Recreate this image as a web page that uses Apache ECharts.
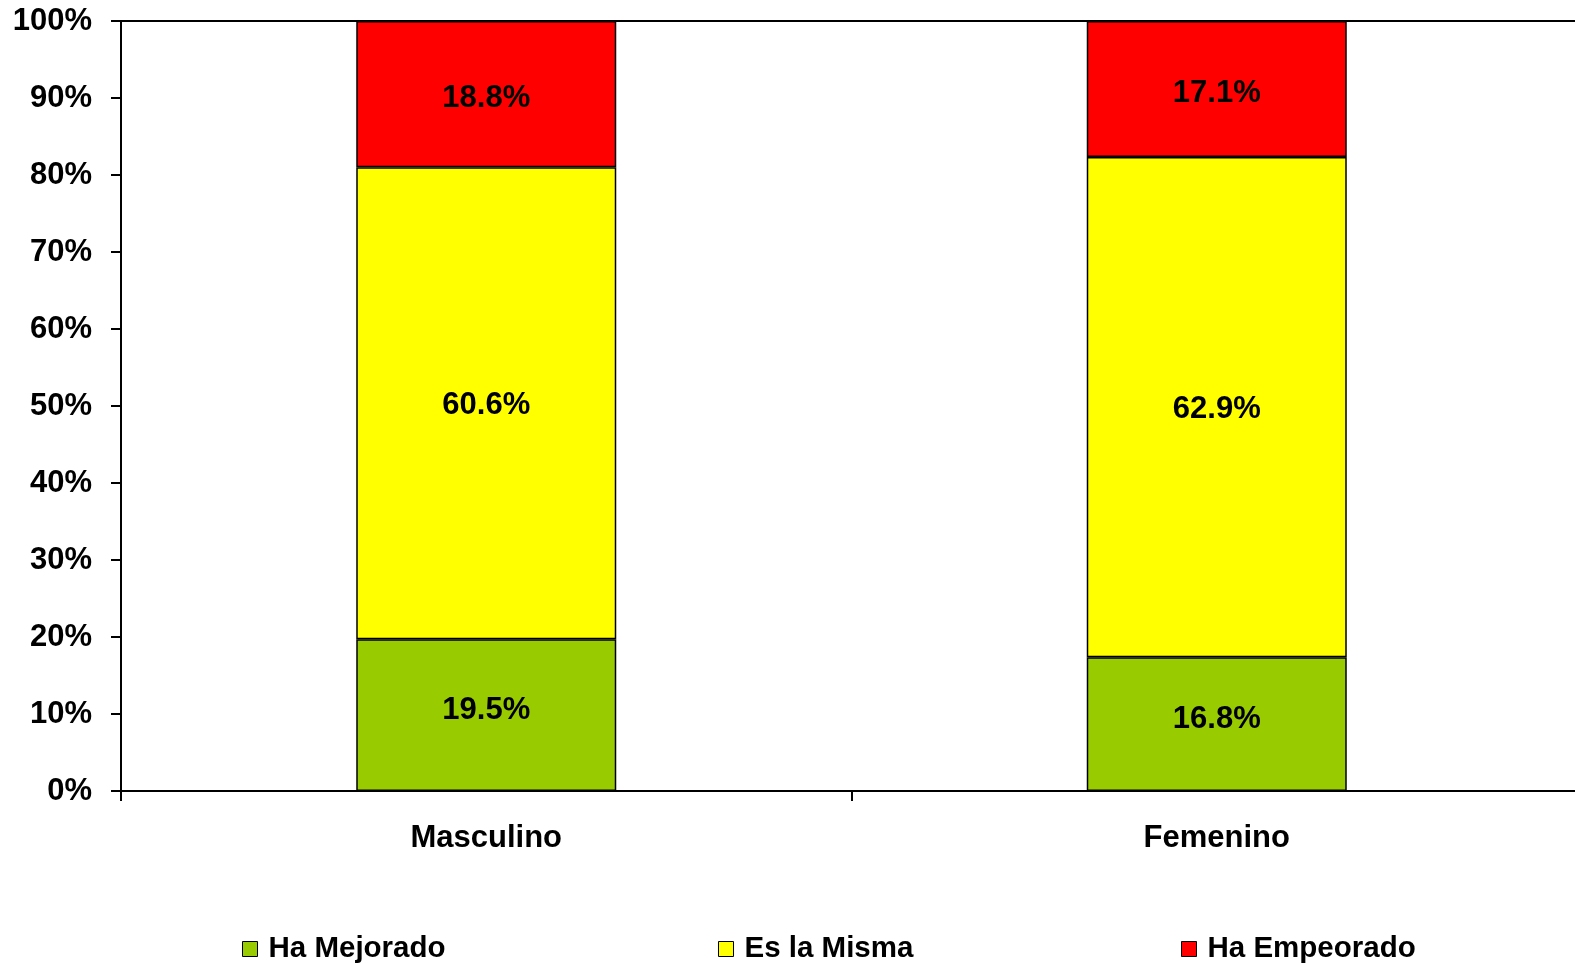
<!DOCTYPE html>
<html>
<head>
<meta charset="utf-8">
<script src="https://cdn.jsdelivr.net/npm/echarts@6/dist/echarts.min.js"></script>
<style>html,body{margin:0;padding:0;background:#fff}#c{width:1575px;height:963px}</style>
</head>
<body>
<div id="c"></div>
<script>
const categories = ['Masculino', 'Femenino'];
const seriesNames = ['Ha Mejorado', 'Es la Misma', 'Ha Empeorado'];
const haMejorado = [19.5, 16.8];
const esLaMisma = [60.6, 62.9];
const haEmpeorado = [18.8, 17.1];
const yTicks = [0, 10, 20, 30, 40, 50, 60, 70, 80, 90, 100];
const colors = ['#99CC00', '#FFFF00', '#FF0000'];

const raw = [haMejorado, esLaMisma, haEmpeorado];
const totals = categories.map((_, i) => raw.reduce((s, arr) => s + arr[i], 0));
const FONT = '"Liberation Sans", Arial, sans-serif';
const FS = 31;
const labelOffsets = [[0, -5], [0, 2], [0, 4]];

const chart = echarts.init(document.getElementById('c'));
const series = raw.map((arr, k) => ({
  name: seriesNames[k],
  type: 'bar',
  stack: 'total',
  barWidth: 260,
  data: arr.map((v, i) => ({ value: v / totals[i] * 100, raw: v })),
  itemStyle: { color: colors[k], borderColor: '#000', borderWidth: 1.5 },
  label: {
    show: true,
    position: 'inside',
    offset: labelOffsets[k],
    color: '#000',
    fontFamily: FONT,
    fontWeight: 'bold',
    fontSize: FS,
    formatter: p => p.data.raw.toFixed(1) + '%'
  }
}));
const legendLefts = [242, 718, 1181];
chart.setOption({
  animation: false,
  backgroundColor: '#fff',
  color: colors,
  grid: { left: 121, right: -7, top: 21, bottom: 172, outerBoundsMode: 'none', containLabel: false, show: true, borderColor: '#000', borderWidth: 2, backgroundColor: 'transparent' },
  legend: seriesNames.map((n, k) => ({
    data: [n],
    left: legendLefts[k],
    top: 934,
    padding: 0,
    itemWidth: 15,
    itemHeight: 15,
    icon: 'rect',
    itemStyle: { borderColor: '#000', borderWidth: 1 },
    textStyle: { fontFamily: FONT, fontWeight: 'bold', fontSize: 29.5, color: '#000', padding: [0, 0, 0, 6] }
  })),
  xAxis: {
    type: 'category',
    data: categories,
    axisLine: { lineStyle: { color: '#000', width: 2 } },
    axisTick: { show: true, length: 10, lineStyle: { color: '#000', width: 2 } },
    axisLabel: { margin: 32, color: '#000', fontFamily: FONT, fontWeight: 'bold', fontSize: FS }
  },
  yAxis: {
    type: 'value',
    min: yTicks[0],
    max: yTicks[yTicks.length - 1],
    interval: yTicks[1] - yTicks[0],
    splitLine: { show: false },
    axisLine: { show: true, lineStyle: { color: '#000', width: 2 } },
    axisTick: { show: true, length: 10, lineStyle: { color: '#000', width: 2 } },
    axisLabel: { margin: 29, color: '#000', fontFamily: FONT, fontWeight: 'bold', fontSize: FS, formatter: '{value}%' }
  },
  series: series
});
</script>
</body>
</html>
